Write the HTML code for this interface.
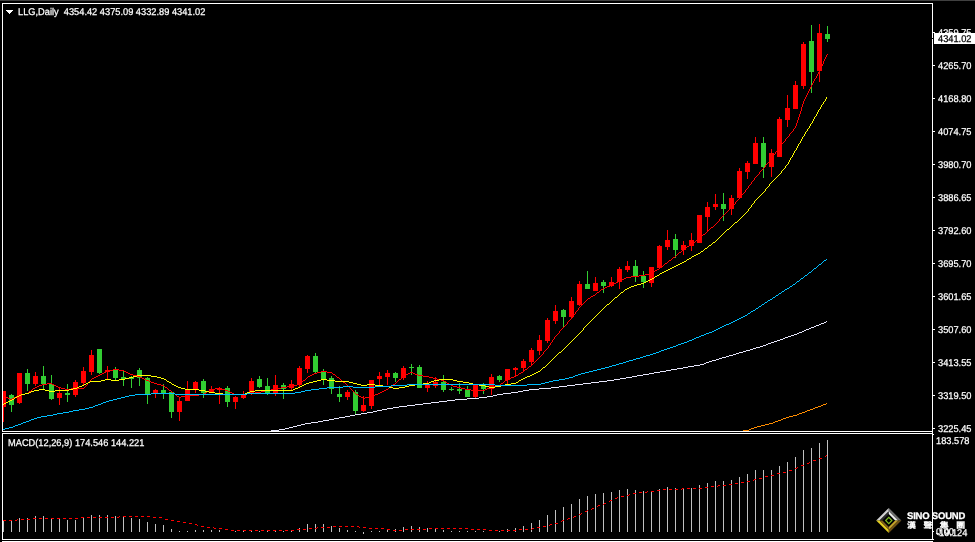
<!DOCTYPE html>
<html lang="en"><head><meta charset="utf-8"><title>LLG,Daily</title>
<style>
html,body{margin:0;padding:0;background:#000;}
body{width:975px;height:542px;overflow:hidden;position:relative;font-family:"Liberation Sans","Noto Sans CJK TC",sans-serif;}
svg{position:absolute;left:0;top:0;display:block;}
.t{position:absolute;color:#fff;font-size:9.8px;line-height:12px;height:12px;white-space:pre;text-rendering:geometricPrecision;-webkit-text-stroke:0.25px;transform:scaleX(0.945);transform-origin:0 0;}
.ax{left:938px;}
.k{color:#000;}
.wm{position:absolute;color:#fff;font-weight:bold;white-space:pre;}
</style></head><body>
<svg width="975" height="542" viewBox="0 0 975 542" shape-rendering="crispEdges">
<rect x="0" y="0" width="975" height="542" fill="#000"/>
<rect x="0" y="0" width="975" height="1" fill="#404040"/>
<g fill="#fff">
<rect x="2" y="3" width="931" height="1"/>
<rect x="2" y="3" width="1" height="429"/>
<rect x="2" y="431" width="931" height="1"/>
<rect x="2" y="433" width="931" height="1"/>
<rect x="2" y="433" width="1" height="107"/>
<rect x="2" y="539" width="931" height="1"/>
<rect x="2" y="541" width="931" height="1"/>
<rect x="932" y="3" width="1" height="537"/>
<rect x="933" y="32" width="2" height="1"/>
<rect x="933" y="65" width="2" height="1"/>
<rect x="933" y="98" width="2" height="1"/>
<rect x="933" y="131" width="2" height="1"/>
<rect x="933" y="164" width="2" height="1"/>
<rect x="933" y="197" width="2" height="1"/>
<rect x="933" y="230" width="2" height="1"/>
<rect x="933" y="263" width="2" height="1"/>
<rect x="933" y="296" width="2" height="1"/>
<rect x="933" y="329" width="2" height="1"/>
<rect x="933" y="362" width="2" height="1"/>
<rect x="933" y="395" width="2" height="1"/>
<rect x="933" y="428" width="2" height="1"/>
<rect x="933" y="434" width="1" height="1"/>
<rect x="933" y="531" width="1" height="1"/>
<rect x="933" y="539" width="1" height="1"/>
</g>
<g>
<rect x="3" y="391" width="1" height="31" fill="#ff0000"/>
<rect x="3" y="391" width="3" height="16" fill="#ff0000"/>
<rect x="11" y="394" width="1" height="18" fill="#32cd32"/>
<rect x="9" y="395" width="5" height="10" fill="#32cd32"/>
<rect x="19" y="373" width="1" height="31" fill="#ff0000"/>
<rect x="17" y="373" width="5" height="30" fill="#ff0000"/>
<rect x="27" y="369" width="1" height="22" fill="#32cd32"/>
<rect x="25" y="373" width="5" height="11" fill="#32cd32"/>
<rect x="35" y="372" width="1" height="14" fill="#ff0000"/>
<rect x="33" y="376" width="5" height="8" fill="#ff0000"/>
<rect x="43" y="366" width="1" height="23" fill="#32cd32"/>
<rect x="41" y="376" width="5" height="8" fill="#32cd32"/>
<rect x="51" y="375" width="1" height="25" fill="#32cd32"/>
<rect x="49" y="384" width="5" height="15" fill="#32cd32"/>
<rect x="59" y="388" width="1" height="17" fill="#ff0000"/>
<rect x="57" y="393" width="5" height="5" fill="#ff0000"/>
<rect x="67" y="384" width="1" height="18" fill="#32cd32"/>
<rect x="65" y="393" width="5" height="2" fill="#32cd32"/>
<rect x="75" y="380" width="1" height="17" fill="#ff0000"/>
<rect x="73" y="382" width="5" height="13" fill="#ff0000"/>
<rect x="83" y="367" width="1" height="19" fill="#ff0000"/>
<rect x="81" y="371" width="5" height="12" fill="#ff0000"/>
<rect x="91" y="350" width="1" height="25" fill="#ff0000"/>
<rect x="89" y="355" width="5" height="17" fill="#ff0000"/>
<rect x="99" y="349" width="1" height="25" fill="#32cd32"/>
<rect x="97" y="349" width="5" height="24" fill="#32cd32"/>
<rect x="107" y="366" width="1" height="13" fill="#ff0000"/>
<rect x="105" y="370" width="5" height="2" fill="#ff0000"/>
<rect x="115" y="367" width="1" height="13" fill="#32cd32"/>
<rect x="113" y="370" width="5" height="8" fill="#32cd32"/>
<rect x="123" y="371" width="1" height="15" fill="#32cd32"/>
<rect x="121" y="377" width="5" height="2" fill="#32cd32"/>
<rect x="131" y="376" width="1" height="12" fill="#32cd32"/>
<rect x="129" y="377" width="5" height="2" fill="#32cd32"/>
<rect x="139" y="368" width="1" height="18" fill="#32cd32"/>
<rect x="137" y="370" width="5" height="8" fill="#32cd32"/>
<rect x="147" y="377" width="1" height="27" fill="#32cd32"/>
<rect x="145" y="378" width="5" height="16" fill="#32cd32"/>
<rect x="155" y="389" width="1" height="9" fill="#ff0000"/>
<rect x="153" y="390" width="5" height="3" fill="#ff0000"/>
<rect x="163" y="384" width="1" height="15" fill="#32cd32"/>
<rect x="161" y="390" width="5" height="3" fill="#32cd32"/>
<rect x="171" y="392" width="1" height="26" fill="#32cd32"/>
<rect x="169" y="392" width="5" height="20" fill="#32cd32"/>
<rect x="179" y="398" width="1" height="23" fill="#ff0000"/>
<rect x="177" y="401" width="5" height="11" fill="#ff0000"/>
<rect x="187" y="381" width="1" height="20" fill="#ff0000"/>
<rect x="185" y="389" width="5" height="12" fill="#ff0000"/>
<rect x="195" y="381" width="1" height="12" fill="#ff0000"/>
<rect x="193" y="382" width="5" height="8" fill="#ff0000"/>
<rect x="203" y="379" width="1" height="19" fill="#32cd32"/>
<rect x="201" y="381" width="5" height="12" fill="#32cd32"/>
<rect x="211" y="386" width="1" height="7" fill="#ff0000"/>
<rect x="209" y="389" width="5" height="4" fill="#ff0000"/>
<rect x="219" y="387" width="1" height="17" fill="#ff0000"/>
<rect x="217" y="388" width="5" height="2" fill="#ff0000"/>
<rect x="227" y="386" width="1" height="21" fill="#32cd32"/>
<rect x="225" y="388" width="5" height="14" fill="#32cd32"/>
<rect x="235" y="396" width="1" height="13" fill="#ff0000"/>
<rect x="233" y="397" width="5" height="5" fill="#ff0000"/>
<rect x="243" y="391" width="1" height="8" fill="#ff0000"/>
<rect x="241" y="394" width="5" height="4" fill="#ff0000"/>
<rect x="251" y="378" width="1" height="17" fill="#ff0000"/>
<rect x="249" y="381" width="5" height="12" fill="#ff0000"/>
<rect x="259" y="376" width="1" height="12" fill="#32cd32"/>
<rect x="257" y="379" width="5" height="8" fill="#32cd32"/>
<rect x="267" y="378" width="1" height="17" fill="#32cd32"/>
<rect x="265" y="386" width="5" height="7" fill="#32cd32"/>
<rect x="275" y="375" width="1" height="21" fill="#ff0000"/>
<rect x="273" y="385" width="5" height="8" fill="#ff0000"/>
<rect x="283" y="383" width="1" height="16" fill="#32cd32"/>
<rect x="281" y="385" width="5" height="4" fill="#32cd32"/>
<rect x="291" y="380" width="1" height="10" fill="#ff0000"/>
<rect x="289" y="384" width="5" height="4" fill="#ff0000"/>
<rect x="299" y="366" width="1" height="21" fill="#ff0000"/>
<rect x="297" y="368" width="5" height="17" fill="#ff0000"/>
<rect x="307" y="355" width="1" height="18" fill="#ff0000"/>
<rect x="305" y="356" width="5" height="13" fill="#ff0000"/>
<rect x="315" y="353" width="1" height="20" fill="#32cd32"/>
<rect x="313" y="356" width="5" height="16" fill="#32cd32"/>
<rect x="323" y="369" width="1" height="16" fill="#32cd32"/>
<rect x="321" y="372" width="5" height="8" fill="#32cd32"/>
<rect x="331" y="376" width="1" height="18" fill="#32cd32"/>
<rect x="329" y="378" width="5" height="11" fill="#32cd32"/>
<rect x="339" y="386" width="1" height="16" fill="#32cd32"/>
<rect x="337" y="394" width="5" height="3" fill="#32cd32"/>
<rect x="347" y="390" width="1" height="10" fill="#ff0000"/>
<rect x="345" y="392" width="5" height="5" fill="#ff0000"/>
<rect x="355" y="390" width="1" height="24" fill="#32cd32"/>
<rect x="353" y="392" width="5" height="19" fill="#32cd32"/>
<rect x="363" y="396" width="1" height="16" fill="#ff0000"/>
<rect x="361" y="405" width="5" height="6" fill="#ff0000"/>
<rect x="371" y="380" width="1" height="29" fill="#ff0000"/>
<rect x="369" y="380" width="5" height="26" fill="#ff0000"/>
<rect x="379" y="372" width="1" height="13" fill="#ff0000"/>
<rect x="377" y="376" width="5" height="3" fill="#ff0000"/>
<rect x="387" y="370" width="1" height="15" fill="#ff0000"/>
<rect x="385" y="373" width="5" height="4" fill="#ff0000"/>
<rect x="395" y="372" width="1" height="10" fill="#32cd32"/>
<rect x="393" y="373" width="5" height="5" fill="#32cd32"/>
<rect x="403" y="366" width="1" height="14" fill="#ff0000"/>
<rect x="401" y="368" width="5" height="10" fill="#ff0000"/>
<rect x="411" y="364" width="1" height="11" fill="#32cd32"/>
<rect x="409" y="367" width="5" height="1" fill="#32cd32"/>
<rect x="419" y="365" width="1" height="23" fill="#32cd32"/>
<rect x="417" y="367" width="5" height="21" fill="#32cd32"/>
<rect x="427" y="381" width="1" height="11" fill="#ff0000"/>
<rect x="425" y="385" width="5" height="3" fill="#ff0000"/>
<rect x="435" y="377" width="1" height="11" fill="#ff0000"/>
<rect x="433" y="382" width="5" height="4" fill="#ff0000"/>
<rect x="443" y="375" width="1" height="17" fill="#32cd32"/>
<rect x="441" y="382" width="5" height="8" fill="#32cd32"/>
<rect x="451" y="387" width="1" height="4" fill="#32cd32"/>
<rect x="449" y="389" width="5" height="1" fill="#32cd32"/>
<rect x="459" y="383" width="1" height="11" fill="#32cd32"/>
<rect x="457" y="389" width="5" height="2" fill="#32cd32"/>
<rect x="467" y="386" width="1" height="11" fill="#32cd32"/>
<rect x="465" y="390" width="5" height="7" fill="#32cd32"/>
<rect x="475" y="385" width="1" height="13" fill="#ff0000"/>
<rect x="473" y="385" width="5" height="12" fill="#ff0000"/>
<rect x="483" y="383" width="1" height="11" fill="#32cd32"/>
<rect x="481" y="384" width="5" height="5" fill="#32cd32"/>
<rect x="491" y="374" width="1" height="21" fill="#ff0000"/>
<rect x="489" y="377" width="5" height="12" fill="#ff0000"/>
<rect x="499" y="375" width="1" height="7" fill="#32cd32"/>
<rect x="497" y="376" width="5" height="4" fill="#32cd32"/>
<rect x="507" y="369" width="1" height="15" fill="#ff0000"/>
<rect x="505" y="369" width="5" height="11" fill="#ff0000"/>
<rect x="515" y="367" width="1" height="9" fill="#ff0000"/>
<rect x="513" y="368" width="5" height="2" fill="#ff0000"/>
<rect x="523" y="359" width="1" height="13" fill="#ff0000"/>
<rect x="521" y="361" width="5" height="7" fill="#ff0000"/>
<rect x="531" y="348" width="1" height="17" fill="#ff0000"/>
<rect x="529" y="350" width="5" height="12" fill="#ff0000"/>
<rect x="539" y="335" width="1" height="20" fill="#ff0000"/>
<rect x="537" y="340" width="5" height="11" fill="#ff0000"/>
<rect x="547" y="318" width="1" height="25" fill="#ff0000"/>
<rect x="545" y="320" width="5" height="21" fill="#ff0000"/>
<rect x="555" y="305" width="1" height="19" fill="#ff0000"/>
<rect x="553" y="311" width="5" height="10" fill="#ff0000"/>
<rect x="563" y="309" width="1" height="19" fill="#32cd32"/>
<rect x="561" y="310" width="5" height="7" fill="#32cd32"/>
<rect x="571" y="297" width="1" height="21" fill="#ff0000"/>
<rect x="569" y="301" width="5" height="16" fill="#ff0000"/>
<rect x="579" y="281" width="1" height="25" fill="#ff0000"/>
<rect x="577" y="284" width="5" height="21" fill="#ff0000"/>
<rect x="587" y="271" width="1" height="18" fill="#32cd32"/>
<rect x="585" y="284" width="5" height="5" fill="#32cd32"/>
<rect x="595" y="277" width="1" height="14" fill="#ff0000"/>
<rect x="593" y="283" width="5" height="8" fill="#ff0000"/>
<rect x="603" y="280" width="1" height="13" fill="#32cd32"/>
<rect x="601" y="282" width="5" height="4" fill="#32cd32"/>
<rect x="611" y="277" width="1" height="10" fill="#ff0000"/>
<rect x="609" y="282" width="5" height="4" fill="#ff0000"/>
<rect x="619" y="267" width="1" height="22" fill="#ff0000"/>
<rect x="617" y="269" width="5" height="13" fill="#ff0000"/>
<rect x="627" y="261" width="1" height="11" fill="#ff0000"/>
<rect x="625" y="266" width="5" height="4" fill="#ff0000"/>
<rect x="635" y="260" width="1" height="22" fill="#32cd32"/>
<rect x="633" y="266" width="5" height="10" fill="#32cd32"/>
<rect x="643" y="271" width="1" height="17" fill="#32cd32"/>
<rect x="641" y="276" width="5" height="6" fill="#32cd32"/>
<rect x="651" y="267" width="1" height="20" fill="#ff0000"/>
<rect x="649" y="267" width="5" height="16" fill="#ff0000"/>
<rect x="659" y="245" width="1" height="24" fill="#ff0000"/>
<rect x="657" y="246" width="5" height="22" fill="#ff0000"/>
<rect x="667" y="230" width="1" height="20" fill="#ff0000"/>
<rect x="665" y="240" width="5" height="7" fill="#ff0000"/>
<rect x="675" y="234" width="1" height="24" fill="#32cd32"/>
<rect x="673" y="239" width="5" height="11" fill="#32cd32"/>
<rect x="683" y="241" width="1" height="14" fill="#ff0000"/>
<rect x="681" y="245" width="5" height="5" fill="#ff0000"/>
<rect x="691" y="233" width="1" height="18" fill="#ff0000"/>
<rect x="689" y="240" width="5" height="6" fill="#ff0000"/>
<rect x="699" y="215" width="1" height="28" fill="#ff0000"/>
<rect x="697" y="215" width="5" height="28" fill="#ff0000"/>
<rect x="707" y="202" width="1" height="30" fill="#ff0000"/>
<rect x="705" y="207" width="5" height="10" fill="#ff0000"/>
<rect x="715" y="194" width="1" height="16" fill="#ff0000"/>
<rect x="713" y="204" width="5" height="3" fill="#ff0000"/>
<rect x="723" y="193" width="1" height="28" fill="#32cd32"/>
<rect x="721" y="204" width="5" height="5" fill="#32cd32"/>
<rect x="731" y="195" width="1" height="20" fill="#ff0000"/>
<rect x="729" y="198" width="5" height="11" fill="#ff0000"/>
<rect x="739" y="168" width="1" height="30" fill="#ff0000"/>
<rect x="737" y="171" width="5" height="27" fill="#ff0000"/>
<rect x="747" y="161" width="1" height="18" fill="#ff0000"/>
<rect x="745" y="163" width="5" height="9" fill="#ff0000"/>
<rect x="755" y="137" width="1" height="27" fill="#ff0000"/>
<rect x="753" y="143" width="5" height="21" fill="#ff0000"/>
<rect x="763" y="137" width="1" height="41" fill="#32cd32"/>
<rect x="761" y="143" width="5" height="24" fill="#32cd32"/>
<rect x="771" y="149" width="1" height="28" fill="#ff0000"/>
<rect x="769" y="153" width="5" height="14" fill="#ff0000"/>
<rect x="779" y="117" width="1" height="40" fill="#ff0000"/>
<rect x="777" y="119" width="5" height="38" fill="#ff0000"/>
<rect x="787" y="95" width="1" height="32" fill="#ff0000"/>
<rect x="785" y="108" width="5" height="12" fill="#ff0000"/>
<rect x="795" y="81" width="1" height="28" fill="#ff0000"/>
<rect x="793" y="85" width="5" height="24" fill="#ff0000"/>
<rect x="803" y="42" width="1" height="47" fill="#ff0000"/>
<rect x="801" y="44" width="5" height="42" fill="#ff0000"/>
<rect x="811" y="25" width="1" height="68" fill="#32cd32"/>
<rect x="809" y="41" width="5" height="31" fill="#32cd32"/>
<rect x="819" y="24" width="1" height="58" fill="#ff0000"/>
<rect x="817" y="33" width="5" height="38" fill="#ff0000"/>
<rect x="827" y="26" width="1" height="16" fill="#32cd32"/>
<rect x="825" y="34" width="5" height="5" fill="#32cd32"/>
</g>
<path d="M827 54h1v1h-1zM826 55h1v1h-1zM826 56h1v1h-1zM825 57h1v1h-1zM825 58h1v1h-1zM824 59h1v1h-1zM824 60h1v1h-1zM823 61h1v1h-1zM823 62h1v1h-1zM823 63h1v1h-1zM822 64h1v1h-1zM822 65h1v1h-1zM821 66h1v1h-1zM821 67h1v1h-1zM820 68h1v1h-1zM820 69h1v1h-1zM819 70h1v1h-1zM819 71h1v1h-1zM818 72h1v1h-1zM818 73h1v1h-1zM817 74h1v1h-1zM817 75h1v1h-1zM816 76h1v1h-1zM816 77h1v1h-1zM815 78h1v1h-1zM814 79h1v1h-1zM814 80h1v1h-1zM813 81h1v1h-1zM813 82h1v1h-1zM812 83h1v1h-1zM812 84h1v1h-1zM811 85h1v1h-1zM811 86h1v1h-1zM810 87h1v1h-1zM810 88h1v1h-1zM809 89h1v1h-1zM809 90h1v1h-1zM808 91h1v1h-1zM808 92h1v1h-1zM807 93h1v1h-1zM807 94h1v1h-1zM806 95h1v1h-1zM806 96h1v1h-1zM805 97h1v1h-1zM805 98h1v1h-1zM804 99h1v1h-1zM804 100h1v1h-1zM803 101h1v1h-1zM803 102h1v1h-1zM803 103h1v1h-1zM802 104h1v1h-1zM802 105h1v1h-1zM802 106h1v1h-1zM801 107h1v1h-1zM801 108h1v1h-1zM801 109h1v1h-1zM801 110h1v1h-1zM800 111h1v1h-1zM800 112h1v1h-1zM800 113h1v1h-1zM799 114h1v1h-1zM799 115h1v1h-1zM799 116h1v1h-1zM798 117h1v1h-1zM798 118h1v1h-1zM798 119h1v1h-1zM797 120h1v1h-1zM797 121h1v1h-1zM797 122h1v1h-1zM796 123h1v1h-1zM796 124h1v1h-1zM796 125h1v1h-1zM795 126h1v1h-1zM795 127h1v1h-1zM794 128h1v1h-1zM793 129h1v1h-1zM793 130h1v1h-1zM792 131h1v1h-1zM791 132h1v1h-1zM790 133h1v1h-1zM789 134h1v1h-1zM789 135h1v1h-1zM788 136h1v1h-1zM787 137h1v1h-1zM786 138h1v1h-1zM785 139h1v1h-1zM785 140h1v1h-1zM784 141h1v1h-1zM783 142h1v1h-1zM782 143h1v1h-1zM781 144h1v1h-1zM781 145h1v1h-1zM780 146h1v1h-1zM779 147h1v1h-1zM778 148h1v1h-1zM778 149h1v1h-1zM777 150h1v1h-1zM776 151h1v1h-1zM775 152h1v1h-1zM775 153h1v1h-1zM774 154h1v1h-1zM773 155h1v1h-1zM772 156h1v1h-1zM772 157h1v1h-1zM771 158h1v1h-1zM770 159h1v1h-1zM769 160h1v1h-1zM769 161h1v1h-1zM768 162h1v1h-1zM767 163h1v1h-1zM766 164h1v1h-1zM765 165h1v1h-1zM765 166h1v1h-1zM764 167h1v1h-1zM763 168h1v1h-1zM762 169h1v1h-1zM761 170h1v1h-1zM760 171h1v1h-1zM759 172h1v1h-1zM759 173h1v1h-1zM758 174h1v1h-1zM757 175h1v1h-1zM756 176h1v1h-1zM755 177h1v1h-1zM754 178h1v1h-1zM754 179h1v1h-1zM753 180h1v1h-1zM752 181h1v1h-1zM751 182h1v1h-1zM751 183h1v1h-1zM750 184h1v1h-1zM749 185h1v1h-1zM748 186h1v1h-1zM748 187h1v1h-1zM747 188h1v1h-1zM746 189h1v1h-1zM745 190h1v1h-1zM745 191h1v1h-1zM744 192h1v1h-1zM743 193h1v1h-1zM742 194h1v1h-1zM741 195h1v1h-1zM741 196h1v1h-1zM740 197h1v1h-1zM739 198h1v1h-1zM738 199h1v1h-1zM737 200h1v1h-1zM736 201h1v1h-1zM735 202h1v1h-1zM735 203h1v1h-1zM734 204h1v1h-1zM733 205h1v1h-1zM732 206h1v1h-1zM731 207h1v1h-1zM730 208h1v1h-1zM729 209h1v1h-1zM728 210h1v1h-1zM727 211h1v1h-1zM726 212h1v1h-1zM725 213h1v1h-1zM724 214h1v1h-1zM723 215h1v1h-1zM722 216h1v1h-1zM721 217h1v1h-1zM720 218h1v1h-1zM719 219h1v1h-1zM719 220h1v1h-1zM718 221h1v1h-1zM717 222h1v1h-1zM716 223h1v1h-1zM715 224h1v1h-1zM714 225h1v1h-1zM713 226h1v1h-1zM711 227h2v1h-2zM710 228h1v1h-1zM709 229h1v1h-1zM708 230h1v1h-1zM707 231h1v1h-1zM706 232h1v1h-1zM705 233h1v1h-1zM703 234h2v1h-2zM702 235h1v1h-1zM701 236h1v1h-1zM700 237h1v1h-1zM699 238h1v1h-1zM697 239h2v1h-2zM696 240h1v1h-1zM695 241h1v1h-1zM693 242h2v1h-2zM692 243h1v1h-1zM691 244h1v1h-1zM689 245h2v1h-2zM687 246h2v1h-2zM686 247h1v1h-1zM684 248h2v1h-2zM683 249h1v1h-1zM682 250h1v1h-1zM681 251h1v1h-1zM679 252h2v1h-2zM678 253h1v1h-1zM677 254h1v1h-1zM676 255h1v1h-1zM675 256h1v1h-1zM673 257h2v1h-2zM672 258h1v1h-1zM671 259h1v1h-1zM669 260h2v1h-2zM668 261h1v1h-1zM667 262h1v1h-1zM665 263h2v1h-2zM664 264h1v1h-1zM663 265h1v1h-1zM661 266h2v1h-2zM660 267h1v1h-1zM659 268h1v1h-1zM657 269h2v1h-2zM655 270h2v1h-2zM654 271h1v1h-1zM652 272h2v1h-2zM649 273h3v1h-3zM645 274h4v1h-4zM639 275h6v1h-6zM631 276h8v1h-8zM626 277h5v1h-5zM624 278h2v1h-2zM622 279h2v1h-2zM620 280h2v1h-2zM618 281h2v1h-2zM616 282h2v1h-2zM614 283h2v1h-2zM612 284h2v1h-2zM610 285h2v1h-2zM607 286h3v1h-3zM605 287h2v1h-2zM603 288h2v1h-2zM601 289h2v1h-2zM600 290h1v1h-1zM599 291h1v1h-1zM597 292h2v1h-2zM596 293h1v1h-1zM595 294h1v1h-1zM593 295h2v1h-2zM591 296h2v1h-2zM590 297h1v1h-1zM588 298h2v1h-2zM587 299h1v1h-1zM586 300h1v1h-1zM585 301h1v1h-1zM584 302h1v1h-1zM583 303h1v1h-1zM582 304h1v1h-1zM581 305h1v1h-1zM580 306h1v1h-1zM579 307h1v1h-1zM578 308h1v1h-1zM578 309h1v1h-1zM577 310h1v1h-1zM576 311h1v1h-1zM575 312h1v1h-1zM575 313h1v1h-1zM574 314h1v1h-1zM573 315h1v1h-1zM572 316h1v1h-1zM572 317h1v1h-1zM571 318h1v1h-1zM570 319h1v1h-1zM569 320h1v1h-1zM568 321h1v1h-1zM567 322h1v1h-1zM567 323h1v1h-1zM566 324h1v1h-1zM565 325h1v1h-1zM564 326h1v1h-1zM563 327h1v1h-1zM562 328h1v1h-1zM561 329h1v1h-1zM560 330h1v1h-1zM559 331h1v1h-1zM559 332h1v1h-1zM558 333h1v1h-1zM557 334h1v1h-1zM556 335h1v1h-1zM555 336h1v1h-1zM554 337h1v1h-1zM554 338h1v1h-1zM553 339h1v1h-1zM552 340h1v1h-1zM552 341h1v1h-1zM551 342h1v1h-1zM550 343h1v1h-1zM550 344h1v1h-1zM549 345h1v1h-1zM548 346h1v1h-1zM548 347h1v1h-1zM547 348h1v1h-1zM546 349h1v1h-1zM545 350h1v1h-1zM544 351h1v1h-1zM543 352h1v1h-1zM543 353h1v1h-1zM542 354h1v1h-1zM541 355h1v1h-1zM540 356h1v1h-1zM539 357h1v1h-1zM538 358h1v1h-1zM537 359h1v1h-1zM536 360h1v1h-1zM535 361h1v1h-1zM534 362h1v1h-1zM533 363h1v1h-1zM532 364h1v1h-1zM531 365h1v1h-1zM529 366h2v1h-2zM528 367h1v1h-1zM527 368h1v1h-1zM113 369h6v1h-6zM525 369h2v1h-2zM109 370h4v1h-4zM119 370h5v1h-5zM524 370h1v1h-1zM106 371h3v1h-3zM124 371h2v1h-2zM321 371h6v1h-6zM523 371h1v1h-1zM104 372h2v1h-2zM126 372h2v1h-2zM317 372h4v1h-4zM327 372h5v1h-5zM410 372h3v1h-3zM521 372h2v1h-2zM102 373h2v1h-2zM128 373h2v1h-2zM314 373h3v1h-3zM332 373h1v1h-1zM408 373h2v1h-2zM413 373h2v1h-2zM519 373h2v1h-2zM100 374h2v1h-2zM130 374h3v1h-3zM312 374h2v1h-2zM333 374h2v1h-2zM406 374h2v1h-2zM415 374h3v1h-3zM518 374h1v1h-1zM98 375h2v1h-2zM133 375h4v1h-4zM310 375h2v1h-2zM335 375h1v1h-1zM404 375h2v1h-2zM418 375h5v1h-5zM516 375h2v1h-2zM96 376h2v1h-2zM137 376h3v1h-3zM308 376h2v1h-2zM336 376h1v1h-1zM403 376h1v1h-1zM423 376h6v1h-6zM514 376h2v1h-2zM94 377h2v1h-2zM140 377h2v1h-2zM307 377h1v1h-1zM337 377h2v1h-2zM402 377h1v1h-1zM429 377h4v1h-4zM511 377h3v1h-3zM92 378h2v1h-2zM142 378h2v1h-2zM306 378h1v1h-1zM339 378h1v1h-1zM401 378h1v1h-1zM433 378h4v1h-4zM509 378h2v1h-2zM91 379h1v1h-1zM144 379h2v1h-2zM305 379h1v1h-1zM340 379h1v1h-1zM399 379h2v1h-2zM437 379h4v1h-4zM507 379h2v1h-2zM90 380h1v1h-1zM146 380h3v1h-3zM303 380h2v1h-2zM341 380h1v1h-1zM398 380h1v1h-1zM441 380h3v1h-3zM505 380h2v1h-2zM89 381h1v1h-1zM149 381h2v1h-2zM302 381h1v1h-1zM342 381h1v1h-1zM397 381h1v1h-1zM444 381h2v1h-2zM504 381h1v1h-1zM88 382h1v1h-1zM151 382h3v1h-3zM301 382h1v1h-1zM343 382h2v1h-2zM396 382h1v1h-1zM446 382h1v1h-1zM503 382h1v1h-1zM47 383h5v1h-5zM87 383h1v1h-1zM154 383h3v1h-3zM300 383h1v1h-1zM345 383h1v1h-1zM395 383h1v1h-1zM447 383h2v1h-2zM501 383h2v1h-2zM42 384h5v1h-5zM52 384h2v1h-2zM87 384h1v1h-1zM157 384h4v1h-4zM297 384h3v1h-3zM346 384h1v1h-1zM393 384h2v1h-2zM449 384h2v1h-2zM500 384h1v1h-1zM39 385h3v1h-3zM54 385h2v1h-2zM86 385h1v1h-1zM161 385h3v1h-3zM293 385h4v1h-4zM347 385h1v1h-1zM392 385h1v1h-1zM451 385h2v1h-2zM497 385h3v1h-3zM37 386h2v1h-2zM56 386h2v1h-2zM85 386h1v1h-1zM164 386h1v1h-1zM287 386h6v1h-6zM348 386h1v1h-1zM391 386h1v1h-1zM453 386h4v1h-4zM493 386h4v1h-4zM35 387h2v1h-2zM58 387h3v1h-3zM84 387h1v1h-1zM165 387h2v1h-2zM281 387h6v1h-6zM349 387h1v1h-1zM389 387h2v1h-2zM457 387h4v1h-4zM490 387h3v1h-3zM33 388h2v1h-2zM61 388h4v1h-4zM71 388h13v1h-13zM167 388h1v1h-1zM215 388h6v1h-6zM277 388h4v1h-4zM350 388h1v1h-1zM388 388h1v1h-1zM461 388h4v1h-4zM487 388h3v1h-3zM32 389h1v1h-1zM65 389h6v1h-6zM168 389h1v1h-1zM211 389h4v1h-4zM221 389h4v1h-4zM271 389h6v1h-6zM351 389h1v1h-1zM386 389h2v1h-2zM465 389h6v1h-6zM485 389h2v1h-2zM31 390h1v1h-1zM169 390h2v1h-2zM209 390h2v1h-2zM225 390h3v1h-3zM265 390h6v1h-6zM352 390h1v1h-1zM384 390h2v1h-2zM471 390h14v1h-14zM29 391h2v1h-2zM171 391h1v1h-1zM207 391h2v1h-2zM228 391h2v1h-2zM250 391h5v1h-5zM261 391h4v1h-4zM353 391h1v1h-1zM382 391h2v1h-2zM28 392h1v1h-1zM172 392h1v1h-1zM206 392h1v1h-1zM230 392h2v1h-2zM247 392h3v1h-3zM255 392h6v1h-6zM354 392h1v1h-1zM380 392h2v1h-2zM25 393h3v1h-3zM173 393h2v1h-2zM204 393h2v1h-2zM232 393h2v1h-2zM245 393h2v1h-2zM355 393h1v1h-1zM378 393h2v1h-2zM21 394h4v1h-4zM175 394h1v1h-1zM199 394h5v1h-5zM234 394h11v1h-11zM356 394h2v1h-2zM375 394h3v1h-3zM3 395h1v1h-1zM18 395h3v1h-3zM176 395h1v1h-1zM185 395h14v1h-14zM358 395h1v1h-1zM373 395h2v1h-2zM4 396h2v1h-2zM16 396h2v1h-2zM177 396h2v1h-2zM181 396h4v1h-4zM359 396h2v1h-2zM369 396h4v1h-4zM6 397h2v1h-2zM14 397h2v1h-2zM179 397h2v1h-2zM361 397h2v1h-2zM365 397h4v1h-4zM8 398h2v1h-2zM12 398h2v1h-2zM363 398h2v1h-2zM10 399h2v1h-2z" fill="#ff0000"/>
<path d="M826 97h1v1h-1zM826 98h1v1h-1zM825 99h1v1h-1zM825 100h1v1h-1zM824 101h1v1h-1zM823 102h1v1h-1zM823 103h1v1h-1zM822 104h1v1h-1zM821 105h1v1h-1zM821 106h1v1h-1zM820 107h1v1h-1zM820 108h1v1h-1zM819 109h1v1h-1zM818 110h1v1h-1zM818 111h1v1h-1zM817 112h1v1h-1zM817 113h1v1h-1zM816 114h1v1h-1zM816 115h1v1h-1zM815 116h1v1h-1zM814 117h1v1h-1zM814 118h1v1h-1zM813 119h1v1h-1zM813 120h1v1h-1zM812 121h1v1h-1zM812 122h1v1h-1zM811 123h1v1h-1zM810 124h1v1h-1zM810 125h1v1h-1zM809 126h1v1h-1zM809 127h1v1h-1zM808 128h1v1h-1zM807 129h1v1h-1zM807 130h1v1h-1zM806 131h1v1h-1zM805 132h1v1h-1zM805 133h1v1h-1zM804 134h1v1h-1zM804 135h1v1h-1zM803 136h1v1h-1zM802 137h1v1h-1zM802 138h1v1h-1zM801 139h1v1h-1zM801 140h1v1h-1zM800 141h1v1h-1zM800 142h1v1h-1zM799 143h1v1h-1zM798 144h1v1h-1zM798 145h1v1h-1zM797 146h1v1h-1zM797 147h1v1h-1zM796 148h1v1h-1zM796 149h1v1h-1zM795 150h1v1h-1zM794 151h1v1h-1zM794 152h1v1h-1zM793 153h1v1h-1zM793 154h1v1h-1zM792 155h1v1h-1zM792 156h1v1h-1zM791 157h1v1h-1zM790 158h1v1h-1zM790 159h1v1h-1zM789 160h1v1h-1zM789 161h1v1h-1zM788 162h1v1h-1zM788 163h1v1h-1zM787 164h1v1h-1zM786 165h1v1h-1zM785 166h1v1h-1zM785 167h1v1h-1zM784 168h1v1h-1zM783 169h1v1h-1zM782 170h1v1h-1zM781 171h1v1h-1zM781 172h1v1h-1zM780 173h1v1h-1zM779 174h1v1h-1zM778 175h1v1h-1zM777 176h1v1h-1zM776 177h1v1h-1zM775 178h1v1h-1zM774 179h1v1h-1zM773 180h1v1h-1zM772 181h1v1h-1zM771 182h1v1h-1zM770 183h1v1h-1zM769 184h1v1h-1zM769 185h1v1h-1zM768 186h1v1h-1zM767 187h1v1h-1zM766 188h1v1h-1zM765 189h1v1h-1zM765 190h1v1h-1zM764 191h1v1h-1zM763 192h1v1h-1zM762 193h1v1h-1zM761 194h1v1h-1zM760 195h1v1h-1zM759 196h1v1h-1zM758 197h1v1h-1zM757 198h1v1h-1zM756 199h1v1h-1zM755 200h1v1h-1zM754 201h1v1h-1zM754 202h1v1h-1zM753 203h1v1h-1zM752 204h1v1h-1zM751 205h1v1h-1zM751 206h1v1h-1zM750 207h1v1h-1zM749 208h1v1h-1zM748 209h1v1h-1zM748 210h1v1h-1zM747 211h1v1h-1zM746 212h1v1h-1zM745 213h1v1h-1zM744 214h1v1h-1zM743 215h1v1h-1zM742 216h1v1h-1zM741 217h1v1h-1zM740 218h1v1h-1zM739 219h1v1h-1zM738 220h1v1h-1zM737 221h1v1h-1zM735 222h2v1h-2zM734 223h1v1h-1zM733 224h1v1h-1zM732 225h1v1h-1zM731 226h1v1h-1zM730 227h1v1h-1zM729 228h1v1h-1zM727 229h2v1h-2zM726 230h1v1h-1zM725 231h1v1h-1zM724 232h1v1h-1zM723 233h1v1h-1zM722 234h1v1h-1zM721 235h1v1h-1zM720 236h1v1h-1zM719 237h1v1h-1zM718 238h1v1h-1zM717 239h1v1h-1zM716 240h1v1h-1zM715 241h1v1h-1zM713 242h2v1h-2zM712 243h1v1h-1zM711 244h1v1h-1zM709 245h2v1h-2zM708 246h1v1h-1zM707 247h1v1h-1zM705 248h2v1h-2zM704 249h1v1h-1zM703 250h1v1h-1zM701 251h2v1h-2zM700 252h1v1h-1zM698 253h2v1h-2zM696 254h2v1h-2zM694 255h2v1h-2zM692 256h2v1h-2zM691 257h1v1h-1zM689 258h2v1h-2zM687 259h2v1h-2zM686 260h1v1h-1zM684 261h2v1h-2zM682 262h2v1h-2zM680 263h2v1h-2zM678 264h2v1h-2zM676 265h2v1h-2zM674 266h2v1h-2zM672 267h2v1h-2zM670 268h2v1h-2zM668 269h2v1h-2zM666 270h2v1h-2zM664 271h2v1h-2zM662 272h2v1h-2zM660 273h2v1h-2zM659 274h1v1h-1zM657 275h2v1h-2zM655 276h2v1h-2zM654 277h1v1h-1zM652 278h2v1h-2zM650 279h2v1h-2zM648 280h2v1h-2zM646 281h2v1h-2zM644 282h2v1h-2zM641 283h3v1h-3zM637 284h4v1h-4zM634 285h3v1h-3zM631 286h3v1h-3zM629 287h2v1h-2zM627 288h2v1h-2zM625 289h2v1h-2zM624 290h1v1h-1zM623 291h1v1h-1zM621 292h2v1h-2zM620 293h1v1h-1zM619 294h1v1h-1zM618 295h1v1h-1zM617 296h1v1h-1zM615 297h2v1h-2zM614 298h1v1h-1zM613 299h1v1h-1zM612 300h1v1h-1zM611 301h1v1h-1zM610 302h1v1h-1zM609 303h1v1h-1zM607 304h2v1h-2zM606 305h1v1h-1zM605 306h1v1h-1zM604 307h1v1h-1zM603 308h1v1h-1zM602 309h1v1h-1zM601 310h1v1h-1zM600 311h1v1h-1zM599 312h1v1h-1zM598 313h1v1h-1zM597 314h1v1h-1zM596 315h1v1h-1zM595 316h1v1h-1zM594 317h1v1h-1zM593 318h1v1h-1zM592 319h1v1h-1zM591 320h1v1h-1zM590 321h1v1h-1zM589 322h1v1h-1zM588 323h1v1h-1zM587 324h1v1h-1zM586 325h1v1h-1zM585 326h1v1h-1zM584 327h1v1h-1zM583 328h1v1h-1zM583 329h1v1h-1zM582 330h1v1h-1zM581 331h1v1h-1zM580 332h1v1h-1zM579 333h1v1h-1zM578 334h1v1h-1zM577 335h1v1h-1zM576 336h1v1h-1zM575 337h1v1h-1zM574 338h1v1h-1zM573 339h1v1h-1zM572 340h1v1h-1zM571 341h1v1h-1zM570 342h1v1h-1zM569 343h1v1h-1zM568 344h1v1h-1zM567 345h1v1h-1zM566 346h1v1h-1zM565 347h1v1h-1zM564 348h1v1h-1zM563 349h1v1h-1zM562 350h1v1h-1zM561 351h1v1h-1zM559 352h2v1h-2zM558 353h1v1h-1zM557 354h1v1h-1zM556 355h1v1h-1zM555 356h1v1h-1zM554 357h1v1h-1zM553 358h1v1h-1zM552 359h1v1h-1zM551 360h1v1h-1zM550 361h1v1h-1zM549 362h1v1h-1zM548 363h1v1h-1zM547 364h1v1h-1zM546 365h1v1h-1zM545 366h1v1h-1zM543 367h2v1h-2zM542 368h1v1h-1zM541 369h1v1h-1zM540 370h1v1h-1zM538 371h2v1h-2zM536 372h2v1h-2zM534 373h2v1h-2zM532 374h2v1h-2zM137 375h14v1h-14zM530 375h2v1h-2zM133 376h4v1h-4zM151 376h6v1h-6zM527 376h3v1h-3zM129 377h4v1h-4zM157 377h4v1h-4zM525 377h2v1h-2zM125 378h4v1h-4zM161 378h3v1h-3zM523 378h2v1h-2zM105 379h6v1h-6zM119 379h6v1h-6zM164 379h2v1h-2zM321 379h6v1h-6zM439 379h14v1h-14zM521 379h2v1h-2zM101 380h4v1h-4zM111 380h8v1h-8zM166 380h1v1h-1zM317 380h4v1h-4zM327 380h8v1h-8zM434 380h5v1h-5zM453 380h4v1h-4zM519 380h2v1h-2zM90 381h11v1h-11zM167 381h2v1h-2zM313 381h4v1h-4zM335 381h14v1h-14zM431 381h3v1h-3zM457 381h6v1h-6zM518 381h1v1h-1zM88 382h2v1h-2zM169 382h2v1h-2zM309 382h4v1h-4zM349 382h4v1h-4zM429 382h2v1h-2zM463 382h6v1h-6zM516 382h2v1h-2zM86 383h2v1h-2zM171 383h1v1h-1zM306 383h3v1h-3zM353 383h4v1h-4zM423 383h6v1h-6zM469 383h4v1h-4zM511 383h5v1h-5zM84 384h2v1h-2zM172 384h2v1h-2zM304 384h2v1h-2zM357 384h4v1h-4zM367 384h8v1h-8zM415 384h8v1h-8zM473 384h6v1h-6zM505 384h6v1h-6zM82 385h2v1h-2zM174 385h2v1h-2zM302 385h2v1h-2zM361 385h6v1h-6zM375 385h8v1h-8zM409 385h6v1h-6zM479 385h6v1h-6zM501 385h4v1h-4zM79 386h3v1h-3zM176 386h2v1h-2zM300 386h2v1h-2zM383 386h6v1h-6zM405 386h4v1h-4zM485 386h4v1h-4zM495 386h6v1h-6zM77 387h2v1h-2zM178 387h3v1h-3zM298 387h2v1h-2zM389 387h4v1h-4zM399 387h6v1h-6zM489 387h6v1h-6zM73 388h4v1h-4zM181 388h4v1h-4zM295 388h3v1h-3zM393 388h6v1h-6zM39 389h6v1h-6zM69 389h4v1h-4zM185 389h14v1h-14zM293 389h2v1h-2zM34 390h5v1h-5zM45 390h4v1h-4zM55 390h14v1h-14zM199 390h6v1h-6zM255 390h38v1h-38zM31 391h3v1h-3zM49 391h6v1h-6zM205 391h4v1h-4zM250 391h5v1h-5zM29 392h2v1h-2zM209 392h6v1h-6zM247 392h3v1h-3zM25 393h4v1h-4zM215 393h8v1h-8zM245 393h2v1h-2zM21 394h4v1h-4zM223 394h22v1h-22zM19 395h2v1h-2zM17 396h2v1h-2zM15 397h2v1h-2zM14 398h1v1h-1zM12 399h2v1h-2zM10 400h2v1h-2zM8 401h2v1h-2zM6 402h2v1h-2zM4 403h2v1h-2zM3 404h1v1h-1z" fill="#ffff00"/>
<path d="M826 259h1v1h-1zM824 260h2v1h-2zM823 261h1v1h-1zM822 262h1v1h-1zM821 263h1v1h-1zM819 264h2v1h-2zM818 265h1v1h-1zM817 266h1v1h-1zM816 267h1v1h-1zM814 268h2v1h-2zM813 269h1v1h-1zM812 270h1v1h-1zM811 271h1v1h-1zM809 272h2v1h-2zM808 273h1v1h-1zM807 274h1v1h-1zM805 275h2v1h-2zM804 276h1v1h-1zM803 277h1v1h-1zM801 278h2v1h-2zM800 279h1v1h-1zM799 280h1v1h-1zM797 281h2v1h-2zM796 282h1v1h-1zM795 283h1v1h-1zM793 284h2v1h-2zM792 285h1v1h-1zM790 286h2v1h-2zM789 287h1v1h-1zM787 288h2v1h-2zM785 289h2v1h-2zM784 290h1v1h-1zM782 291h2v1h-2zM781 292h1v1h-1zM779 293h2v1h-2zM778 294h1v1h-1zM776 295h2v1h-2zM775 296h1v1h-1zM773 297h2v1h-2zM772 298h1v1h-1zM770 299h2v1h-2zM768 300h2v1h-2zM767 301h1v1h-1zM765 302h2v1h-2zM764 303h1v1h-1zM762 304h2v1h-2zM761 305h1v1h-1zM759 306h2v1h-2zM758 307h1v1h-1zM756 308h2v1h-2zM755 309h1v1h-1zM753 310h2v1h-2zM751 311h2v1h-2zM750 312h1v1h-1zM748 313h2v1h-2zM747 314h1v1h-1zM745 315h2v1h-2zM743 316h2v1h-2zM741 317h2v1h-2zM739 318h2v1h-2zM737 319h2v1h-2zM735 320h2v1h-2zM733 321h2v1h-2zM731 322h2v1h-2zM729 323h2v1h-2zM726 324h3v1h-3zM724 325h2v1h-2zM722 326h2v1h-2zM720 327h2v1h-2zM718 328h2v1h-2zM716 329h2v1h-2zM714 330h2v1h-2zM712 331h2v1h-2zM709 332h3v1h-3zM706 333h3v1h-3zM704 334h2v1h-2zM701 335h3v1h-3zM699 336h2v1h-2zM696 337h3v1h-3zM694 338h2v1h-2zM692 339h2v1h-2zM689 340h3v1h-3zM687 341h2v1h-2zM684 342h3v1h-3zM681 343h3v1h-3zM678 344h3v1h-3zM676 345h2v1h-2zM673 346h3v1h-3zM670 347h3v1h-3zM667 348h3v1h-3zM664 349h3v1h-3zM661 350h3v1h-3zM659 351h2v1h-2zM656 352h3v1h-3zM653 353h3v1h-3zM650 354h3v1h-3zM646 355h4v1h-4zM643 356h3v1h-3zM640 357h3v1h-3zM636 358h4v1h-4zM633 359h3v1h-3zM629 360h4v1h-4zM626 361h3v1h-3zM623 362h3v1h-3zM619 363h4v1h-4zM616 364h3v1h-3zM612 365h4v1h-4zM609 366h3v1h-3zM605 367h4v1h-4zM601 368h4v1h-4zM597 369h4v1h-4zM593 370h4v1h-4zM589 371h4v1h-4zM585 372h4v1h-4zM581 373h4v1h-4zM578 374h3v1h-3zM575 375h3v1h-3zM573 376h2v1h-2zM569 377h4v1h-4zM565 378h4v1h-4zM559 379h6v1h-6zM553 380h6v1h-6zM549 381h4v1h-4zM545 382h4v1h-4zM541 383h4v1h-4zM407 384h88v1h-88zM527 384h14v1h-14zM391 385h16v1h-16zM495 385h32v1h-32zM343 386h10v1h-10zM375 386h16v1h-16zM327 387h16v1h-16zM353 387h22v1h-22zM319 388h8v1h-8zM311 389h8v1h-8zM305 390h6v1h-6zM301 391h4v1h-4zM295 392h6v1h-6zM151 393h24v1h-24zM247 393h48v1h-48zM135 394h16v1h-16zM175 394h72v1h-72zM129 395h6v1h-6zM125 396h4v1h-4zM121 397h4v1h-4zM117 398h4v1h-4zM113 399h4v1h-4zM109 400h4v1h-4zM106 401h3v1h-3zM103 402h3v1h-3zM101 403h2v1h-2zM98 404h3v1h-3zM95 405h3v1h-3zM93 406h2v1h-2zM89 407h4v1h-4zM85 408h4v1h-4zM79 409h6v1h-6zM73 410h6v1h-6zM69 411h4v1h-4zM63 412h6v1h-6zM57 413h6v1h-6zM53 414h4v1h-4zM47 415h6v1h-6zM41 416h6v1h-6zM37 417h4v1h-4zM34 418h3v1h-3zM31 419h3v1h-3zM29 420h2v1h-2zM26 421h3v1h-3zM23 422h3v1h-3zM21 423h2v1h-2zM18 424h3v1h-3zM15 425h3v1h-3zM13 426h2v1h-2zM9 427h4v1h-4zM5 428h4v1h-4zM3 429h2v1h-2z" fill="#00bfff"/>
<path d="M826 321h1v1h-1zM824 322h2v1h-2zM821 323h3v1h-3zM819 324h2v1h-2zM816 325h3v1h-3zM814 326h2v1h-2zM811 327h3v1h-3zM809 328h2v1h-2zM806 329h3v1h-3zM804 330h2v1h-2zM802 331h2v1h-2zM799 332h3v1h-3zM797 333h2v1h-2zM794 334h3v1h-3zM791 335h3v1h-3zM788 336h3v1h-3zM785 337h3v1h-3zM783 338h2v1h-2zM780 339h3v1h-3zM777 340h3v1h-3zM774 341h3v1h-3zM771 342h3v1h-3zM768 343h3v1h-3zM766 344h2v1h-2zM763 345h3v1h-3zM760 346h3v1h-3zM756 347h4v1h-4zM753 348h3v1h-3zM750 349h3v1h-3zM746 350h4v1h-4zM743 351h3v1h-3zM739 352h4v1h-4zM736 353h3v1h-3zM733 354h3v1h-3zM729 355h4v1h-4zM726 356h3v1h-3zM722 357h4v1h-4zM719 358h3v1h-3zM716 359h3v1h-3zM712 360h4v1h-4zM709 361h3v1h-3zM706 362h3v1h-3zM704 363h2v1h-2zM700 364h4v1h-4zM694 365h6v1h-6zM688 366h6v1h-6zM683 367h5v1h-5zM677 368h6v1h-6zM671 369h6v1h-6zM666 370h5v1h-5zM660 371h6v1h-6zM654 372h6v1h-6zM649 373h5v1h-5zM643 374h6v1h-6zM637 375h6v1h-6zM632 376h5v1h-5zM626 377h6v1h-6zM620 378h6v1h-6zM614 379h6v1h-6zM607 380h7v1h-7zM599 381h8v1h-8zM591 382h8v1h-8zM583 383h8v1h-8zM575 384h8v1h-8zM567 385h8v1h-8zM559 386h8v1h-8zM551 387h8v1h-8zM539 388h12v1h-12zM529 389h10v1h-10zM523 390h6v1h-6zM518 391h5v1h-5zM511 392h7v1h-7zM503 393h8v1h-8zM497 394h6v1h-6zM493 395h4v1h-4zM487 396h6v1h-6zM479 397h8v1h-8zM467 398h12v1h-12zM455 399h12v1h-12zM447 400h8v1h-8zM439 401h8v1h-8zM431 402h8v1h-8zM423 403h8v1h-8zM415 404h8v1h-8zM407 405h8v1h-8zM399 406h8v1h-8zM393 407h6v1h-6zM387 408h6v1h-6zM382 409h5v1h-5zM377 410h5v1h-5zM373 411h4v1h-4zM367 412h6v1h-6zM361 413h6v1h-6zM355 414h6v1h-6zM350 415h5v1h-5zM345 416h5v1h-5zM339 417h6v1h-6zM334 418h5v1h-5zM329 419h5v1h-5zM323 420h6v1h-6zM318 421h5v1h-5zM311 422h7v1h-7zM305 423h6v1h-6zM301 424h4v1h-4zM297 425h4v1h-4zM293 426h4v1h-4zM289 427h4v1h-4zM285 428h4v1h-4zM279 429h6v1h-6zM271 430h8v1h-8z" fill="#e6e6fa"/>
<path d="M826 403h1v1h-1zM823 404h3v1h-3zM821 405h2v1h-2zM818 406h3v1h-3zM815 407h3v1h-3zM813 408h2v1h-2zM810 409h3v1h-3zM807 410h3v1h-3zM805 411h2v1h-2zM802 412h3v1h-3zM799 413h3v1h-3zM797 414h2v1h-2zM793 415h4v1h-4zM789 416h4v1h-4zM786 417h3v1h-3zM783 418h3v1h-3zM781 419h2v1h-2zM778 420h3v1h-3zM775 421h3v1h-3zM773 422h2v1h-2zM769 423h4v1h-4zM765 424h4v1h-4zM761 425h4v1h-4zM757 426h4v1h-4zM754 427h3v1h-3zM751 428h3v1h-3zM749 429h2v1h-2zM743 430h6v1h-6z" fill="#ff8c00"/>
<g fill="#c0c0c0">
<rect x="3" y="520" width="1" height="12"/>
<rect x="11" y="520" width="1" height="12"/>
<rect x="19" y="518" width="1" height="14"/>
<rect x="27" y="518" width="1" height="14"/>
<rect x="35" y="516" width="1" height="16"/>
<rect x="43" y="516" width="1" height="16"/>
<rect x="51" y="519" width="1" height="13"/>
<rect x="59" y="519" width="1" height="13"/>
<rect x="67" y="520" width="1" height="12"/>
<rect x="75" y="520" width="1" height="12"/>
<rect x="83" y="517" width="1" height="15"/>
<rect x="91" y="515" width="1" height="17"/>
<rect x="99" y="515" width="1" height="17"/>
<rect x="107" y="515" width="1" height="17"/>
<rect x="115" y="516" width="1" height="16"/>
<rect x="123" y="516" width="1" height="16"/>
<rect x="131" y="518" width="1" height="14"/>
<rect x="139" y="519" width="1" height="13"/>
<rect x="147" y="522" width="1" height="10"/>
<rect x="155" y="524" width="1" height="8"/>
<rect x="163" y="525" width="1" height="7"/>
<rect x="171" y="529" width="1" height="3"/>
<rect x="179" y="531" width="1" height="1"/>
<rect x="187" y="531" width="1" height="1"/>
<rect x="195" y="530" width="1" height="2"/>
<rect x="203" y="530" width="1" height="2"/>
<rect x="211" y="530" width="1" height="2"/>
<rect x="219" y="530" width="1" height="2"/>
<rect x="235" y="531" width="1" height="1"/>
<rect x="243" y="531" width="1" height="1"/>
<rect x="251" y="531" width="1" height="1"/>
<rect x="259" y="531" width="1" height="1"/>
<rect x="267" y="531" width="1" height="1"/>
<rect x="275" y="531" width="1" height="1"/>
<rect x="283" y="531" width="1" height="1"/>
<rect x="291" y="531" width="1" height="1"/>
<rect x="299" y="528" width="1" height="4"/>
<rect x="307" y="524" width="1" height="8"/>
<rect x="315" y="524" width="1" height="8"/>
<rect x="323" y="524" width="1" height="8"/>
<rect x="331" y="526" width="1" height="6"/>
<rect x="339" y="528" width="1" height="4"/>
<rect x="347" y="530" width="1" height="2"/>
<rect x="355" y="531" width="1" height="1"/>
<rect x="363" y="532" width="1" height="2"/>
<rect x="371" y="531" width="1" height="1"/>
<rect x="379" y="531" width="1" height="1"/>
<rect x="387" y="529" width="1" height="3"/>
<rect x="395" y="529" width="1" height="3"/>
<rect x="403" y="527" width="1" height="5"/>
<rect x="411" y="526" width="1" height="6"/>
<rect x="419" y="527" width="1" height="5"/>
<rect x="427" y="528" width="1" height="4"/>
<rect x="435" y="528" width="1" height="4"/>
<rect x="443" y="530" width="1" height="2"/>
<rect x="451" y="531" width="1" height="1"/>
<rect x="459" y="531" width="1" height="1"/>
<rect x="467" y="531" width="1" height="1"/>
<rect x="475" y="531" width="1" height="1"/>
<rect x="483" y="531" width="1" height="1"/>
<rect x="499" y="531" width="1" height="1"/>
<rect x="507" y="529" width="1" height="3"/>
<rect x="515" y="528" width="1" height="4"/>
<rect x="523" y="526" width="1" height="6"/>
<rect x="531" y="523" width="1" height="9"/>
<rect x="539" y="520" width="1" height="12"/>
<rect x="547" y="515" width="1" height="17"/>
<rect x="555" y="510" width="1" height="22"/>
<rect x="563" y="507" width="1" height="25"/>
<rect x="571" y="504" width="1" height="28"/>
<rect x="579" y="499" width="1" height="33"/>
<rect x="587" y="496" width="1" height="36"/>
<rect x="595" y="494" width="1" height="38"/>
<rect x="603" y="493" width="1" height="39"/>
<rect x="611" y="492" width="1" height="40"/>
<rect x="619" y="490" width="1" height="42"/>
<rect x="627" y="489" width="1" height="43"/>
<rect x="635" y="490" width="1" height="42"/>
<rect x="643" y="491" width="1" height="41"/>
<rect x="651" y="491" width="1" height="41"/>
<rect x="659" y="489" width="1" height="43"/>
<rect x="667" y="487" width="1" height="45"/>
<rect x="675" y="488" width="1" height="44"/>
<rect x="683" y="488" width="1" height="44"/>
<rect x="691" y="488" width="1" height="44"/>
<rect x="699" y="485" width="1" height="47"/>
<rect x="707" y="483" width="1" height="49"/>
<rect x="715" y="481" width="1" height="51"/>
<rect x="723" y="481" width="1" height="51"/>
<rect x="731" y="480" width="1" height="52"/>
<rect x="739" y="477" width="1" height="55"/>
<rect x="747" y="474" width="1" height="58"/>
<rect x="755" y="470" width="1" height="62"/>
<rect x="763" y="470" width="1" height="62"/>
<rect x="771" y="470" width="1" height="62"/>
<rect x="779" y="466" width="1" height="66"/>
<rect x="787" y="462" width="1" height="70"/>
<rect x="795" y="457" width="1" height="75"/>
<rect x="803" y="450" width="1" height="82"/>
<rect x="811" y="448" width="1" height="84"/>
<rect x="819" y="443" width="1" height="89"/>
<rect x="827" y="440" width="1" height="92"/>
</g>
<path d="M826 455h1v1h-1zM825 456h1v1h-1zM819 458h3v1h-3zM813 460h3v1h-3zM809 462h1v1h-1zM807 463h2v1h-2zM801 465h3v1h-3zM797 467h1v1h-1zM795 468h2v1h-2zM789 470h3v1h-3zM783 472h3v1h-3zM777 473h3v1h-3zM771 475h3v1h-3zM765 476h3v1h-3zM759 478h3v1h-3zM754 479h2v1h-2zM753 480h1v1h-1zM747 481h3v1h-3zM741 482h3v1h-3zM735 483h3v1h-3zM729 484h3v1h-3zM718 485h2v1h-2zM723 485h3v1h-3zM711 486h3v1h-3zM717 486h1v1h-1zM705 487h3v1h-3zM682 488h2v1h-2zM687 488h3v1h-3zM693 488h3v1h-3zM699 488h3v1h-3zM663 489h3v1h-3zM669 489h3v1h-3zM675 489h3v1h-3zM681 489h1v1h-1zM657 490h3v1h-3zM647 491h1v1h-1zM651 491h3v1h-3zM639 492h3v1h-3zM645 492h2v1h-2zM633 493h3v1h-3zM629 494h1v1h-1zM627 495h2v1h-2zM621 496h3v1h-3zM617 497h1v1h-1zM615 498h2v1h-2zM610 500h2v1h-2zM609 501h1v1h-1zM604 503h2v1h-2zM603 504h1v1h-1zM598 505h2v1h-2zM597 506h1v1h-1zM592 508h2v1h-2zM591 509h1v1h-1zM587 510h1v1h-1zM585 511h2v1h-2zM581 513h1v1h-1zM579 514h2v1h-2zM119 516h1v1h-1zM123 516h3v1h-3zM129 516h3v1h-3zM135 516h3v1h-3zM141 516h3v1h-3zM147 516h3v1h-3zM574 516h2v1h-2zM81 517h3v1h-3zM87 517h3v1h-3zM93 517h3v1h-3zM99 517h3v1h-3zM105 517h3v1h-3zM111 517h3v1h-3zM117 517h2v1h-2zM153 517h3v1h-3zM159 517h3v1h-3zM573 517h1v1h-1zM33 518h3v1h-3zM39 518h3v1h-3zM45 518h3v1h-3zM51 518h3v1h-3zM57 518h3v1h-3zM63 518h3v1h-3zM69 518h3v1h-3zM75 518h3v1h-3zM568 518h2v1h-2zM17 519h1v1h-1zM21 519h3v1h-3zM27 519h3v1h-3zM165 519h3v1h-3zM567 519h1v1h-1zM3 520h3v1h-3zM9 520h3v1h-3zM15 520h2v1h-2zM171 520h3v1h-3zM562 520h2v1h-2zM177 521h3v1h-3zM561 521h1v1h-1zM183 522h3v1h-3zM189 523h3v1h-3zM555 523h3v1h-3zM195 524h2v1h-2zM550 524h2v1h-2zM197 525h1v1h-1zM549 525h1v1h-1zM201 526h3v1h-3zM333 526h3v1h-3zM339 526h3v1h-3zM345 526h3v1h-3zM351 526h3v1h-3zM357 526h2v1h-2zM543 526h3v1h-3zM207 527h3v1h-3zM213 527h1v1h-1zM317 527h1v1h-1zM321 527h3v1h-3zM327 527h3v1h-3zM359 527h1v1h-1zM363 527h3v1h-3zM537 527h3v1h-3zM214 528h2v1h-2zM219 528h3v1h-3zM309 528h3v1h-3zM315 528h2v1h-2zM369 528h3v1h-3zM375 528h3v1h-3zM381 528h3v1h-3zM429 528h3v1h-3zM435 528h3v1h-3zM441 528h3v1h-3zM447 528h3v1h-3zM453 528h3v1h-3zM459 528h3v1h-3zM465 528h3v1h-3zM532 528h2v1h-2zM225 529h3v1h-3zM297 529h3v1h-3zM303 529h3v1h-3zM387 529h3v1h-3zM405 529h3v1h-3zM411 529h3v1h-3zM417 529h3v1h-3zM423 529h3v1h-3zM471 529h3v1h-3zM477 529h3v1h-3zM483 529h3v1h-3zM519 529h3v1h-3zM525 529h3v1h-3zM531 529h1v1h-1zM231 530h3v1h-3zM237 530h3v1h-3zM243 530h3v1h-3zM249 530h3v1h-3zM255 530h3v1h-3zM261 530h3v1h-3zM267 530h3v1h-3zM273 530h3v1h-3zM279 530h3v1h-3zM285 530h3v1h-3zM291 530h3v1h-3zM393 530h3v1h-3zM399 530h3v1h-3zM489 530h3v1h-3zM495 530h3v1h-3zM501 530h3v1h-3zM507 530h3v1h-3zM513 530h3v1h-3z" fill="#ff0000"/>
<path d="M6 10h7v1h-7zM7 11h5v1h-5zM8 12h3v1h-3zM9 13h1v1h-1z" fill="#fff"/>
<rect x="934" y="33" width="41" height="11" fill="#fff"/>
<rect x="932" y="38" width="2" height="1" fill="#000"/>
<g shape-rendering="geometricPrecision">
<polygon points="876.2,520.5 888.8,507.9 888.8,511.3 879.6,520.5" fill="#cfcfcf"/>
<polygon points="888.8,507.9 901.4,520.5 898.0,520.5 888.8,511.3" fill="#6c6c6c"/>
<polygon points="879.6,520.5 888.8,511.3 888.8,514.1 882.4,520.5" fill="#2a2a2a"/>
<polygon points="888.8,511.3 898.0,520.5 895.2,520.5 888.8,514.1" fill="#f2f2f2"/>
<polygon points="888.8,533.1 876.2,520.5 879.6,520.5 888.8,529.7" fill="#e4cf1f"/>
<polygon points="901.4,520.5 888.8,533.1 888.8,529.7 898.0,520.5" fill="#6e5016"/>
<polygon points="888.8,529.7 879.6,520.5 882.4,520.5 888.8,526.9" fill="#7d5f1a"/>
<polygon points="898.0,520.5 888.8,529.7 888.8,526.9 895.2,520.5" fill="#c9a52a"/>
<polygon points="885.6999999999999,520.5 888.8,517.4 891.9,520.5 888.8,523.6" fill="#000" stroke="#7fbf1f" stroke-width="1.1"/>
</g>
</svg>
<div class="t " style="left:17.5px;top:7px">LLG,Daily  4354.42 4375.09 4332.89 4341.02</div>
<div class="t " style="left:8px;top:438px">MACD(12,26,9) 174.546 144.221</div>
<div class="t " style="left:938px;top:28px">4359.75</div>
<div class="t " style="left:938px;top:61px">4265.70</div>
<div class="t " style="left:938px;top:94px">4168.80</div>
<div class="t " style="left:938px;top:127px">4074.75</div>
<div class="t " style="left:938px;top:160px">3980.70</div>
<div class="t " style="left:938px;top:193px">3886.65</div>
<div class="t " style="left:938px;top:226px">3792.60</div>
<div class="t " style="left:938px;top:259px">3695.70</div>
<div class="t " style="left:938px;top:292px">3601.65</div>
<div class="t " style="left:938px;top:325px">3507.60</div>
<div class="t " style="left:938px;top:358px">3413.55</div>
<div class="t " style="left:938px;top:391px">3319.50</div>
<div class="t " style="left:938px;top:424px">3225.45</div>
<div class="t " style="left:935.5px;top:436px">183.578</div>
<div class="t " style="left:936px;top:527px">0.00</div>
<div class="t " style="left:936px;top:528px">-19.124</div>
<div class="t k" style="left:938px;top:34px">4341.02</div>
<div class="wm" style="left:907px;top:510.8px;font-size:9.5px;line-height:12px;letter-spacing:-0.2px;text-rendering:geometricPrecision;-webkit-text-stroke:0.3px #fff;">SINO SOUND</div>
<div class="wm" style="left:907px;top:520px;font-size:8px;line-height:12px;letter-spacing:6.9px;font-weight:bold;text-rendering:geometricPrecision;-webkit-text-stroke:0.3px #fff;transform:scaleX(1.1);transform-origin:0 0;">漢聲集團</div>
</body></html>
